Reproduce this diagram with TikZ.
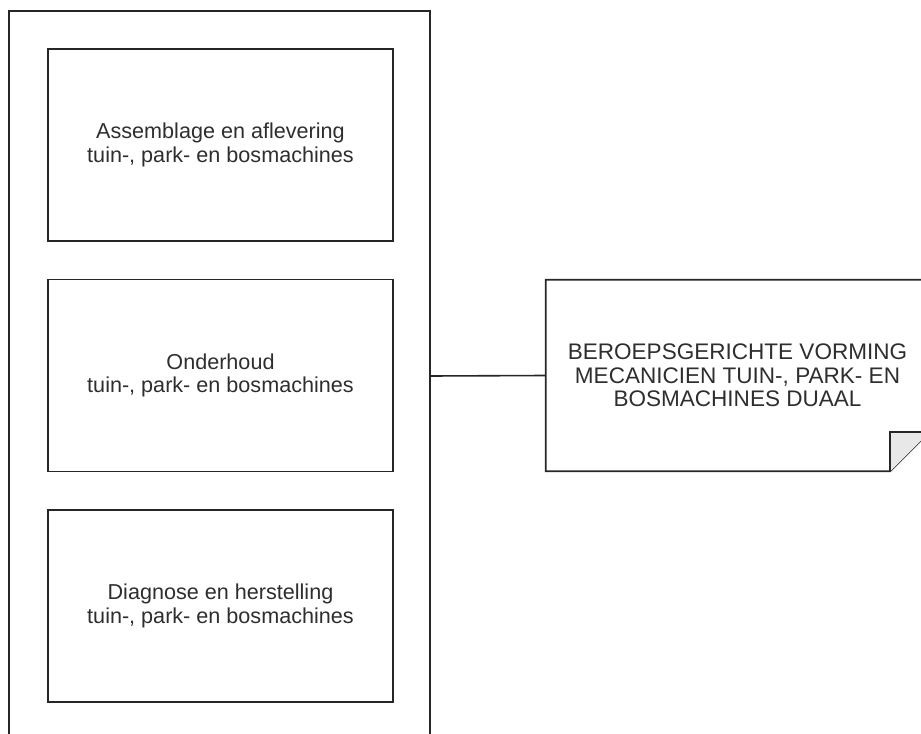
\documentclass[tikz,border=0pt]{standalone}
\usepackage{fontspec}
\setmainfont{Liberation Sans}
\usetikzlibrary{calc}
\definecolor{lijn}{HTML}{262626}
\definecolor{tekst}{HTML}{2E2E2E}
\definecolor{vouw}{HTML}{E8E8E8}
\newcommand{\px}{0.75pt}
\tikzset{
  kader/.style={draw=lijn, line width=1.2pt, minimum width=421*\px, minimum height=730*\px},
  vak/.style={draw=lijn, line width=1.2pt, minimum width=345*\px, minimum height=192*\px,
    align=center, text=tekst, font=\fontsize{16.2}{17.4}\selectfont},
  nota/.style={minimum width=383*\px, minimum height=191*\px, align=center, text=tekst,
    font=\fontsize{16.9}{17.8}\selectfont},
}
\begin{document}
\begin{tikzpicture}[x=\px, y=-\px]
      \useasboundingbox (0,0) rectangle (921,734);
      \clip (0,0) rectangle (921,734);

      % Kader met de drie modules
      \node[kader] (kader) at (219.5,376) {};
      \foreach \ypos/\naam/\titel in {145/assemblage/Assemblage en aflevering,
                                      375.5/onderhoud/Onderhoud,
                                      606/diagnose/Diagnose en herstelling} {
        \node[vak] (\naam) at (220.5,\ypos) {\titel\\tuin-, park- en bosmachines};
      }

      % Opleiding
      \node[nota] (opleiding) at (737.5,375.5) {BEROEPSGERICHTE VORMING\\MECANICIEN TUIN-, PARK- EN\\BOSMACHINES DUAAL};
      \draw[lijn, line width=1.2pt] (opleiding.north west) -- (opleiding.north east)
        -- ($(opleiding.south east)+(0,-39)$) -- ($(opleiding.south east)+(-39,0)$)
        -- (opleiding.south west) -- cycle;
      \filldraw[lijn, fill=vouw, line width=1.2pt] ($(opleiding.south east)+(-39,0)$)
        -- ($(opleiding.south east)+(-39,-39)$) -- ($(opleiding.south east)+(0,-39)$);

      % Verbinding
      \draw[lijn, line width=1.2pt] (kader.east) -- (opleiding.west);
    \end{tikzpicture}
\end{document}
